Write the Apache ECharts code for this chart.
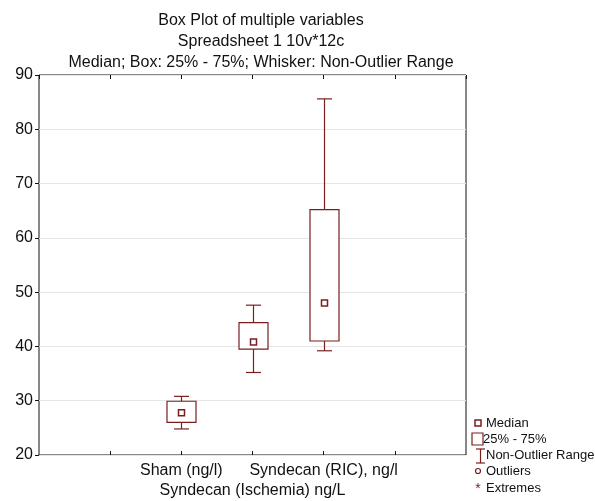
<!DOCTYPE html>
<html>
<head>
<meta charset="utf-8">
<script src="https://cdn.jsdelivr.net/npm/echarts@6/dist/echarts.min.js"></script>
<style>
html,body{margin:0;padding:0;background:#fff;}
#main{width:595px;height:501px;}
</style>
</head>
<body>
<div id="main"></div>
<script>
// variables, in plotting order
var categories = ['Sham (ng/l)', 'Syndecan (Ischemia) ng/L', 'Syndecan (RIC), ng/l'];
var positions = [2, 3, 4];
var whiskerLow = [24.8, 35.2, 39.2];
var q25 = [26.0, 39.5, 41.0];
var medians = [27.8, 40.8, 48.0];
var q75 = [29.9, 44.4, 65.2];
var whiskerHigh = [30.8, 47.6, 85.6];
var yTicks = [20, 30, 40, 50, 60, 70, 80, 90];

var RED = '#7a1f1f';
var FONT = 'Liberation Sans, Arial, sans-serif';

window.onload = function () {
	var myChart = echarts.init(document.getElementById('main'));

	var boxData = [];
	for (var i = 0; i < categories.length; i++) {
		boxData.push([positions[i], whiskerLow[i], q25[i], medians[i], q75[i], whiskerHigh[i]]);
	}

	function renderBox(params, api) {
		var x = api.value(0);
		var pLow = api.coord([x, api.value(1)]);
		var pQ1 = api.coord([x, api.value(2)]);
		var pMed = api.coord([x, api.value(3)]);
		var pQ3 = api.coord([x, api.value(4)]);
		var pHigh = api.coord([x, api.value(5)]);
		var cx = Math.round(pMed[0]) + 0.5;
		var bw = 29, cw = 15, ms = 6;
		var st = {stroke: RED, lineWidth: 1.2, fill: null};
		return {
			type: 'group',
			children: [
				{type: 'line', shape: {x1: cx, y1: pHigh[1], x2: cx, y2: pQ3[1]}, style: st},
				{type: 'line', shape: {x1: cx, y1: pQ1[1], x2: cx, y2: pLow[1]}, style: st},
				{type: 'line', shape: {x1: cx - cw / 2, y1: pHigh[1], x2: cx + cw / 2, y2: pHigh[1]}, style: st},
				{type: 'line', shape: {x1: cx - cw / 2, y1: pLow[1], x2: cx + cw / 2, y2: pLow[1]}, style: st},
				{type: 'rect', shape: {x: cx - bw / 2, y: pQ3[1], width: bw, height: pQ1[1] - pQ3[1]}, style: {stroke: RED, lineWidth: 1.2, fill: '#fff'}},
				{type: 'rect', shape: {x: cx - ms / 2, y: pMed[1] - ms / 2, width: ms, height: ms}, style: {stroke: RED, lineWidth: 1.5, fill: '#fff'}}
			]
		};
	}

	function xLabel(v) {
		var idx = positions.indexOf(v);
		if (idx < 0) return '';
		// staggered labels, every second one on a lower row
		return (idx % 2 === 1 ? '\n' : '') + categories[idx];
	}

	var lx = 478;
	var legendItems = [
		{type: 'rect', shape: {x: lx - 3, y: 420, width: 6, height: 6}, style: {stroke: RED, lineWidth: 1.5, fill: '#fff'}},
		{type: 'rect', shape: {x: 472, y: 433, width: 11, height: 12}, style: {stroke: RED, lineWidth: 1.2, fill: '#fff'}},
		{type: 'line', shape: {x1: 480.5, y1: 449, x2: 480.5, y2: 463}, style: {stroke: RED, lineWidth: 1.2}},
		{type: 'line', shape: {x1: 476, y1: 449, x2: 485, y2: 449}, style: {stroke: RED, lineWidth: 1.2}},
		{type: 'line', shape: {x1: 476, y1: 463, x2: 485, y2: 463}, style: {stroke: RED, lineWidth: 1.2}},
		{type: 'circle', shape: {cx: lx, cy: 471, r: 2.5}, style: {stroke: RED, lineWidth: 1.2, fill: '#fff'}},
		{type: 'text', x: lx, y: 489, style: {text: '*', font: '14px ' + FONT, fill: RED, align: 'center', verticalAlign: 'middle'}}
	];
	var legendTexts = [['Median', 486, 423], ['25% - 75%', 483, 439], ['Non-Outlier Range', 486, 455], ['Outliers', 486, 471], ['Extremes', 486, 488]];
	for (var k = 0; k < legendTexts.length; k++) {
		legendItems.push({type: 'text', x: legendTexts[k][1], y: legendTexts[k][2],
			style: {text: legendTexts[k][0], font: '13px ' + FONT, fill: '#111', verticalAlign: 'middle'}});
	}

	myChart.setOption({
		animation: false,
		backgroundColor: '#fff',
		textStyle: {fontFamily: FONT},
		title: {
			text: 'Box Plot of multiple variables\nSpreadsheet 1 10v*12c\nMedian; Box: 25% - 75%; Whisker: Non-Outlier Range',
			left: 256,
			textAlign: 'center',
			top: 5,
			textStyle: {fontSize: 16, fontWeight: 'normal', color: '#111', lineHeight: 21, fontFamily: FONT}
		},
		grid: {left: 39, right: 129, top: 75, bottom: 45, show: true, borderColor: '#111', borderWidth: 1},
		xAxis: [{
			type: 'value', min: 0, max: 6, interval: 1,
			splitLine: {show: false},
			axisLine: {show: false},
			axisTick: {inside: true, length: 4, lineStyle: {color: '#111'}},
			axisLabel: {color: '#111', fontSize: 16, lineHeight: 20, margin: 6, formatter: xLabel, showMinLabel: false, showMaxLabel: false}
		}, {
			type: 'value', min: 0, max: 6, interval: 1, position: 'top',
			splitLine: {show: false},
			axisLine: {show: false},
			axisTick: {inside: true, length: 4, lineStyle: {color: '#111'}},
			axisLabel: {show: false}
		}],
		yAxis: {
			type: 'value', min: yTicks[0], max: yTicks[yTicks.length - 1], interval: 10,
			axisLine: {show: false},
			axisTick: {show: true, length: 4, lineStyle: {color: '#111'}},
			axisLabel: {color: '#111', fontSize: 16, margin: 6},
			splitLine: {show: true, lineStyle: {color: '#e6e6e6', width: 1}}
		},
		graphic: legendItems,
		series: [{
			type: 'custom',
			renderItem: renderBox,
			encode: {x: 0, y: [1, 2, 3, 4, 5]},
			data: boxData,
			z: 5
		}]
	});
};
</script>
</body>
</html>
